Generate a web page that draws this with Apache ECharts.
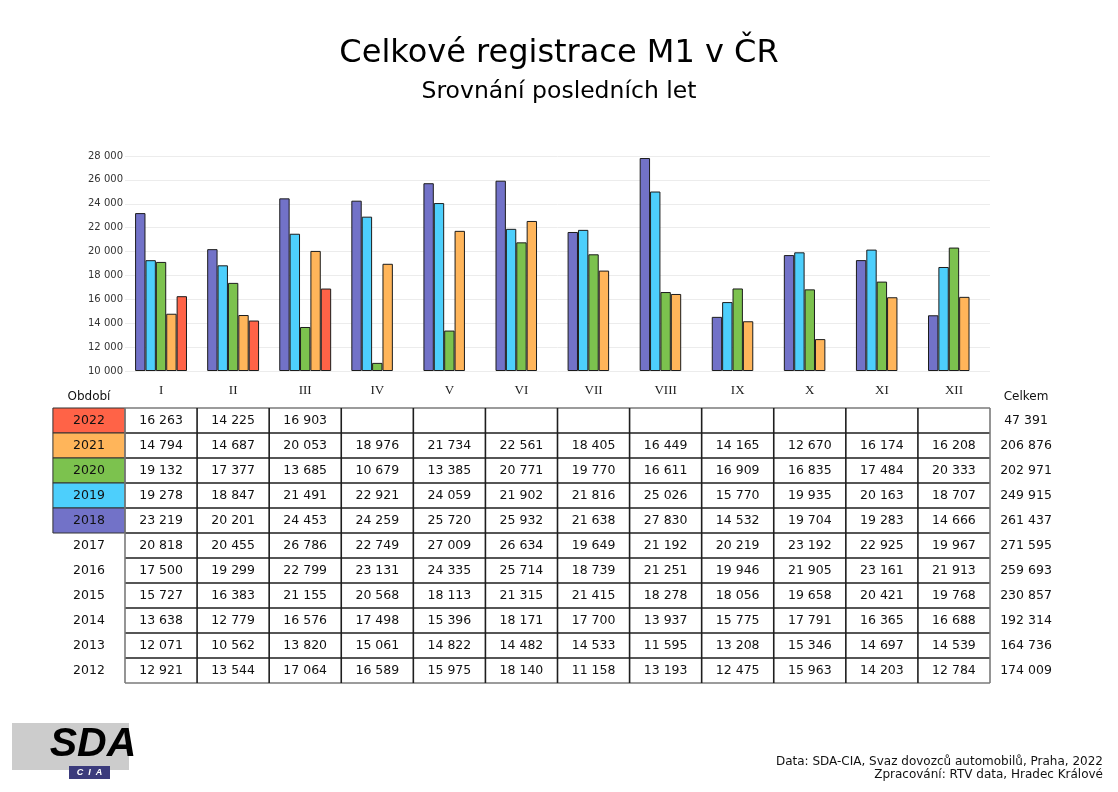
<!DOCTYPE html>
<html><head><meta charset="utf-8">
<script src="https://cdn.jsdelivr.net/npm/echarts@6/dist/echarts.min.js"></script>
<style>html,body{margin:0;padding:0;background:#fff}#c{width:1118px;height:792px}</style>
</head><body><div id="c"></div>
<script>
// ---------- DATA ----------
const months = ['I','II','III','IV','V','VI','VII','VIII','IX','X','XI','XII'];
const chartYears = ['2018','2019','2020','2021','2022'];
const yearColors = {'2018':'#7272c8','2019':'#4dcffc','2020':'#7cc24e','2021':'#ffb55a','2022':'#ff6347'};

const y2022 = [16263, 14225, 16903, null, null, null, null, null, null, null, null, null];
const y2021 = [14794, 14687, 20053, 18976, 21734, 22561, 18405, 16449, 14165, 12670, 16174, 16208];
const y2020 = [19132, 17377, 13685, 10679, 13385, 20771, 19770, 16611, 16909, 16835, 17484, 20333];
const y2019 = [19278, 18847, 21491, 22921, 24059, 21902, 21816, 25026, 15770, 19935, 20163, 18707];
const y2018 = [23219, 20201, 24453, 24259, 25720, 25932, 21638, 27830, 14532, 19704, 19283, 14666];
const y2017 = [20818, 20455, 26786, 22749, 27009, 26634, 19649, 21192, 20219, 23192, 22925, 19967];
const y2016 = [17500, 19299, 22799, 23131, 24335, 25714, 18739, 21251, 19946, 21905, 23161, 21913];
const y2015 = [15727, 16383, 21155, 20568, 18113, 21315, 21415, 18278, 18056, 19658, 20421, 19768];
const y2014 = [13638, 12779, 16576, 17498, 15396, 18171, 17700, 13937, 15775, 17791, 16365, 16688];
const y2013 = [12071, 10562, 13820, 15061, 14822, 14482, 14533, 11595, 13208, 15346, 14697, 14539];
const y2012 = [12921, 13544, 17064, 16589, 15975, 18140, 11158, 13193, 12475, 15963, 14203, 12784];

const tableYears = ['2022','2021','2020','2019','2018','2017','2016','2015','2014','2013','2012'];
const totals = [47391, 206876, 202971, 249915, 261437, 271595, 259693, 230857, 192314, 164736, 174009];

const yMin = 10000, yMax = 28000, yStep = 2000;

// ---------- BUILD ----------
const byYear = {'2022':y2022,'2021':y2021,'2020':y2020,'2019':y2019,'2018':y2018,'2017':y2017,
  '2016':y2016,'2015':y2015,'2014':y2014,'2013':y2013,'2012':y2012};
const fmt = n => (n === null || n === undefined) ? '' : String(n).replace(/\B(?=(\d{3})+(?!\d))/g, ' ');
const FONT = '"DejaVu Sans", Verdana, sans-serif';

const chart = echarts.init(document.getElementById('c'), null, {renderer:'canvas'});
const GRID_TOP = 156, GRID_BOTTOM_Y = 371;
const option = {
  backgroundColor: '#ffffff',
  animation: false,
  title: [
    {text: 'Celkové registrace M1 v ČR', left: 'center', top: 33,
     textStyle: {fontFamily: FONT, fontSize: 32, fontWeight: 'normal', color: '#000'}},
    {text: 'Srovnání posledních let', left: 'center', top: 75,
     textStyle: {fontFamily: FONT, fontSize: 23.5, fontWeight: 'normal', color: '#000'}}
  ],
  grid: {left: 125, right: 128, top: GRID_TOP, bottom: 792 - GRID_BOTTOM_Y, containLabel: false},
  xAxis: {
    type: 'category', data: months,
    axisLine: {show: false}, axisTick: {show: false},
    axisLabel: {margin: 13, fontFamily: '"Liberation Serif", "Times New Roman", serif', fontSize: 13, color: '#222'}
  },
  yAxis: {
    type: 'value', min: yMin, max: yMax, interval: yStep, startValue: yMin,
    axisLine: {show: false}, axisTick: {show: false},
    axisLabel: {margin: 2, fontFamily: FONT, fontSize: 10, color: '#333', formatter: v => fmt(v),
      verticalAlign: 'middle', padding: [0, 0, 6, 0]},
    splitLine: {lineStyle: {color: '#ececec', width: 1}}
  },
  series: chartYears.map(y => ({
    name: y, type: 'bar', data: byYear[y],
    barGap: '0%', barCategoryGap: '28%',
    itemStyle: {color: yearColors[y], borderColor: '#1c1c1c', borderWidth: 1}
  }))
};
chart.setOption(option);

// ---------- TABLE (aligned with category axis) ----------
const xs = months.map((m, i) => chart.convertToPixel({xAxisIndex: 0}, i));
const colW = xs[1] - xs[0];
const tLeft = xs[0] - colW / 2;
const tRight = xs[xs.length - 1] + colW / 2;
const rowH = 25, tTop = 408;
const nRows = tableYears.length;
const tBottom = tTop + rowH * nRows;
const labelX0 = tLeft - colW, labelCX = tLeft - colW / 2;
const totalCX = tRight + 36;
const g = [];

tableYears.forEach((y, r) => {
  const cy = tTop + rowH * r + rowH / 2;
  if (yearColors[y]) {
    g.push({type: 'rect', shape: {x: labelX0, y: tTop + rowH * r, width: colW, height: rowH},
      style: {fill: yearColors[y], stroke: '#333', lineWidth: 1}, z: 10});
  }
  g.push({type: 'text', x: labelCX, y: cy, z: 12,
    style: {text: y, fontFamily: FONT, fontSize: 12.5, fill: '#111', align: 'center', verticalAlign: 'middle'}});
  months.forEach((m, c) => {
    const v = byYear[y][c];
    g.push({type: 'text', x: xs[c], y: cy, z: 12,
      style: {text: fmt(v), fontFamily: FONT, fontSize: 12.5, fill: '#111', align: 'center', verticalAlign: 'middle'}});
  });
  g.push({type: 'text', x: totalCX, y: cy, z: 12,
    style: {text: fmt(totals[r]), fontFamily: FONT, fontSize: 12.5, fill: '#111', align: 'center', verticalAlign: 'middle'}});
});
for (let k = 0; k <= nRows; k++) {
  const yy = tTop + rowH * k;
  const outer = (k === 0 || k === nRows);
  g.push({type: 'line', z: 11, shape: {x1: tLeft, y1: yy, x2: tRight, y2: yy},
    style: {stroke: outer ? '#7a7a7a' : '#1e1e1e', lineWidth: 1.6}});
}
for (let j = 0; j <= months.length; j++) {
  const xx = tLeft + colW * j;
  const outer = (j === 0 || j === months.length);
  g.push({type: 'line', z: 11, shape: {x1: xx, y1: tTop, x2: xx, y2: tBottom},
    style: {stroke: outer ? '#7a7a7a' : '#1e1e1e', lineWidth: 1.6}});
}
g.push({type: 'text', x: labelCX, y: 397, z: 12,
  style: {text: 'Období', fontFamily: FONT, fontSize: 12, fill: '#111', align: 'center', verticalAlign: 'middle'}});
g.push({type: 'text', x: totalCX, y: 397, z: 12,
  style: {text: 'Celkem', fontFamily: FONT, fontSize: 12, fill: '#111', align: 'center', verticalAlign: 'middle'}});

// logo
g.push({type: 'rect', shape: {x: 12, y: 723, width: 117, height: 47}, style: {fill: '#cccccc'}, z: 5});
g.push({type: 'text', x: 93, y: 745, z: 6,
  style: {text: 'SDA', fontFamily: '"Liberation Sans", Arial, sans-serif', fontSize: 41, fontWeight: 'bold',
    fontStyle: 'italic', fill: '#000', align: 'center', verticalAlign: 'middle'}});
g.push({type: 'rect', shape: {x: 69, y: 766, width: 41, height: 13}, style: {fill: '#3b3b7c'}, z: 6});
g.push({type: 'text', x: 89.5, y: 772.5, z: 7,
  style: {text: 'C  I  A', fontFamily: '"Liberation Sans", Arial, sans-serif', fontSize: 9, fontWeight: 'bold',
    fontStyle: 'italic', fill: '#fff', align: 'center', verticalAlign: 'middle'}});

// footer
g.push({type: 'text', x: 1103, y: 762, z: 6,
  style: {text: 'Data: SDA-CIA, Svaz dovozců automobilů, Praha, 2022', fontFamily: FONT, fontSize: 12,
    fill: '#111', align: 'right', verticalAlign: 'middle'}});
g.push({type: 'text', x: 1103, y: 775, z: 6,
  style: {text: 'Zpracování: RTV data, Hradec Králové', fontFamily: FONT, fontSize: 12,
    fill: '#111', align: 'right', verticalAlign: 'middle'}});

chart.setOption({graphic: g});
</script>
</body></html>
